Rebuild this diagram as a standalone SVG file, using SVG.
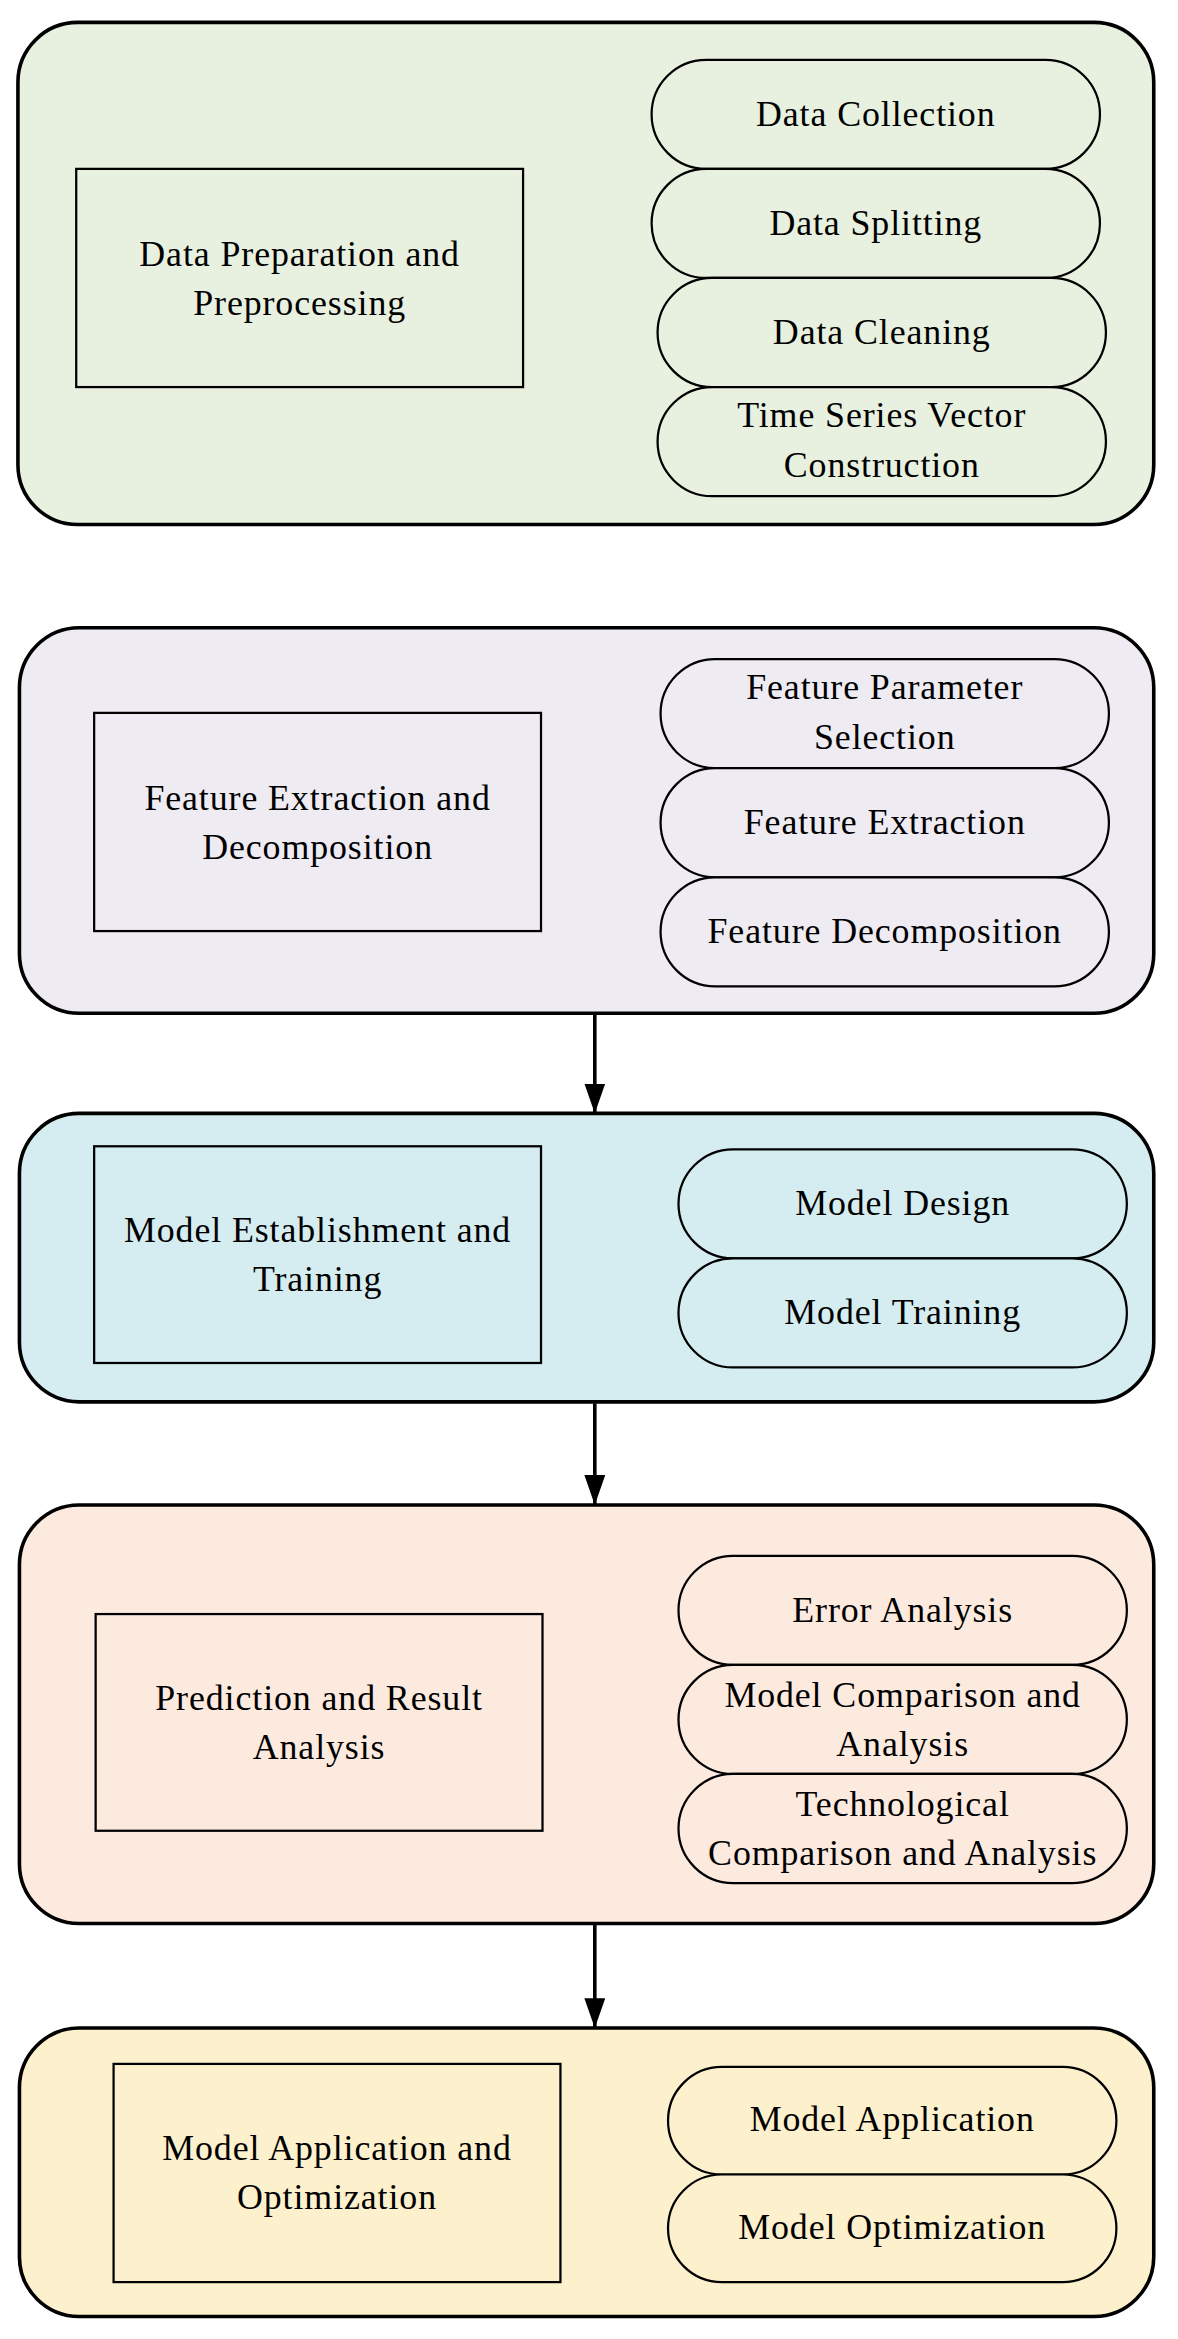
<svg xmlns="http://www.w3.org/2000/svg" width="1178" height="2339" viewBox="0 0 1178 2339">
<style>
.outer{stroke:#000;stroke-width:2.4}
.box{stroke:#000;stroke-width:1.5}
.pill{stroke:#000;stroke-width:1.5}
text{font-family:"Liberation Serif","DejaVu Serif",serif;font-size:24px;letter-spacing:0.6px;text-anchor:middle;fill:#000}
.g1{fill:#e8f0df}.g2{fill:#efebf2}.g3{fill:#d5edf1}.g4{fill:#fdeadf}.g5{fill:#fdf0cd}
</style>
<defs>
<marker id="ah" markerWidth="20" markerHeight="14" refX="20" refY="7" orient="auto" markerUnits="userSpaceOnUse" viewBox="0 0 20 14">
<path d="M0,0 L20,7 L0,14 Z" fill="#000"/>
</marker>
</defs>
<rect width="1178" height="2339" fill="#fff"/>
<g transform="scale(1.4945)">
<g id="stage1">
<rect class="outer g1" x="12" y="15" width="760" height="336" rx="40"/>
<rect class="box g1" x="51" y="113" width="299" height="146"/>
<text x="200.5" y="178">Data Preparation and</text><text x="200.5" y="211">Preprocessing</text>
<rect class="pill g1" x="436" y="40" width="300" height="73" rx="36.5"/><text x="586" y="84">Data Collection</text>
<rect class="pill g1" x="436" y="113" width="300" height="73" rx="36.5"/><text x="586" y="157">Data Splitting</text>
<rect class="pill g1" x="440" y="186" width="300" height="73" rx="36.5"/><text x="590" y="230">Data Cleaning</text>
<rect class="pill g1" x="440" y="259" width="300" height="73" rx="36.5"/><text x="590" y="286">Time Series Vector</text><text x="590" y="319">Construction</text>
</g>
<g id="stage2">
<rect class="outer g2" x="13" y="420" width="759" height="258" rx="40"/>
<rect class="box g2" x="63" y="477" width="299" height="146"/>
<text x="212.5" y="542">Feature Extraction and</text><text x="212.5" y="575">Decomposition</text>
<rect class="pill g2" x="442" y="441" width="300" height="73" rx="36.5"/><text x="592" y="468">Feature Parameter</text><text x="592" y="501">Selection</text>
<rect class="pill g2" x="442" y="514" width="300" height="73" rx="36.5"/><text x="592" y="558">Feature Extraction</text>
<rect class="pill g2" x="442" y="587" width="300" height="73" rx="36.5"/><text x="592" y="631">Feature Decomposition</text>
</g>
<g id="stage3">
<rect class="outer g3" x="13" y="745" width="759" height="193" rx="40"/>
<rect class="box g3" x="63" y="767" width="299" height="145"/>
<text x="212.5" y="831">Model Establishment and</text><text x="212.5" y="864">Training</text>
<rect class="pill g3" x="454" y="769" width="300" height="73" rx="36.5"/><text x="604" y="813">Model Design</text>
<rect class="pill g3" x="454" y="842" width="300" height="73" rx="36.5"/><text x="604" y="886">Model Training</text>
</g>
<g id="stage4">
<rect class="outer g4" x="13" y="1007" width="759" height="280" rx="40"/>
<rect class="box g4" x="64" y="1080" width="299" height="145"/>
<text x="213.5" y="1144">Prediction and Result</text><text x="213.5" y="1177">Analysis</text>
<rect class="pill g4" x="454" y="1041" width="300" height="73" rx="36.5"/><text x="604" y="1085">Error Analysis</text>
<rect class="pill g4" x="454" y="1114" width="300" height="73" rx="36.5"/><text x="604" y="1142">Model Comparison and</text><text x="604" y="1175">Analysis</text>
<rect class="pill g4" x="454" y="1187" width="300" height="73" rx="36.5"/><text x="604" y="1215">Technological</text><text x="604" y="1248">Comparison and Analysis</text>
</g>
<g id="stage5">
<rect class="outer g5" x="13" y="1357" width="759" height="193" rx="40"/>
<rect class="box g5" x="76" y="1381" width="299" height="146"/>
<text x="225.5" y="1445">Model Application and</text><text x="225.5" y="1478">Optimization</text>
<rect class="pill g5" x="447" y="1383" width="300" height="72" rx="36"/><text x="597" y="1426">Model Application</text>
<rect class="pill g5" x="447" y="1455" width="300" height="72" rx="36"/><text x="597" y="1498">Model Optimization</text>
</g>
<g id="connectors" stroke="#000" stroke-width="2.4" fill="none">
<line x1="398" y1="679" x2="398" y2="745" marker-end="url(#ah)"/>
<line x1="398" y1="939" x2="398" y2="1007" marker-end="url(#ah)"/>
<line x1="398" y1="1288" x2="398" y2="1357" marker-end="url(#ah)"/>
</g>
</g>
</svg>
